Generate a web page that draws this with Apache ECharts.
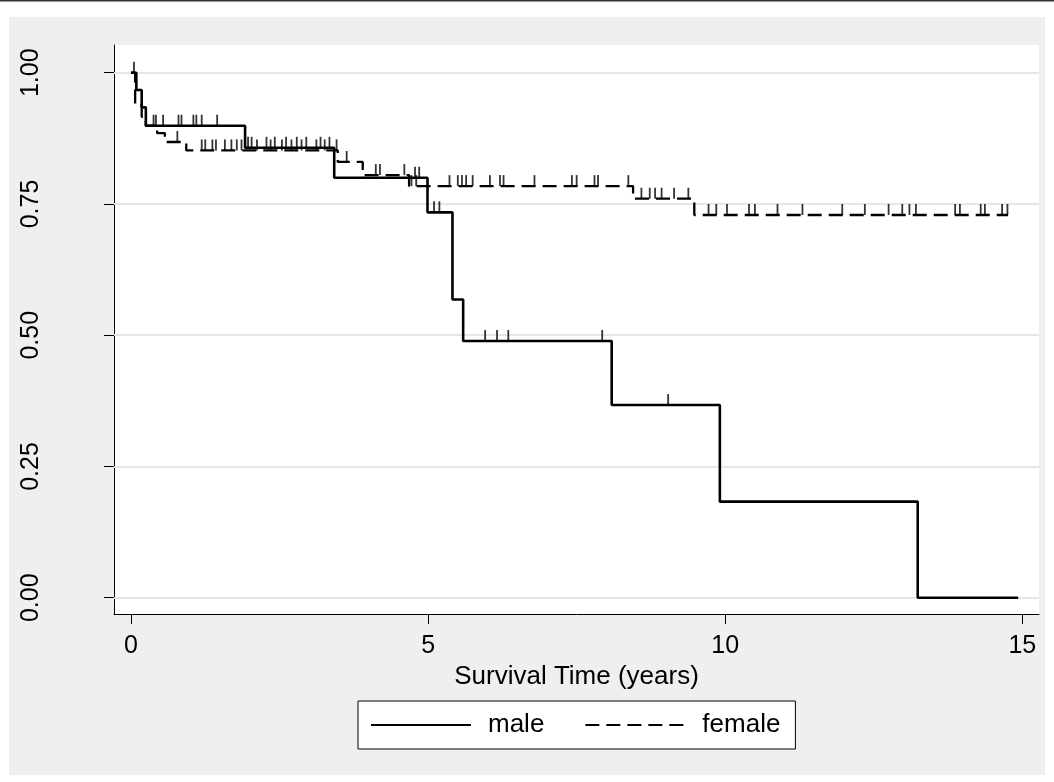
<!DOCTYPE html>
<html>
<head>
<meta charset="utf-8">
<script src="https://cdn.jsdelivr.net/npm/echarts@6/dist/echarts.min.js"></script>
<style>
html,body{margin:0;padding:0;background:#fff;}
#chart{width:1054px;height:782px;}
</style>
</head>
<body>
<div id="chart"></div>
<script>
// Kaplan-Meier step data (time in years, survival)
const maleTimes = [0, 0.09, 0.18, 0.25, 1.92, 3.42, 4.99, 5.41, 5.59, 8.09, 9.91, 13.24, 14.93];
const maleSurv  = [1.0, 0.967, 0.934, 0.899, 0.857, 0.800, 0.734, 0.568, 0.489, 0.367, 0.183, 0.0, 0.0];
const femaleTimes = [0, 0.07, 0.18, 0.25, 0.44, 0.57, 0.93, 3.48, 3.90, 4.68, 8.45, 9.48, 14.76];
const femaleSurv  = [1.0, 0.938, 0.916, 0.899, 0.885, 0.868, 0.852, 0.830, 0.805, 0.784, 0.760, 0.729, 0.729];
// censoring times
const maleCensorTimes = [0.38, 0.42, 0.54, 0.80, 0.85, 1.05, 1.10, 1.19, 1.45, 1.97, 2.03, 2.28, 2.42, 2.61, 2.79, 2.95, 3.19, 3.34, 4.78, 4.85, 5.10, 5.19, 5.96, 6.16, 6.35, 7.93, 9.04];
const femaleCensorTimes = [0.05, 0.78, 1.19, 1.25, 1.37, 1.43, 1.58, 1.69, 1.78, 1.86, 2.12, 2.35, 2.54, 2.70, 2.87, 3.12, 3.26, 3.46, 3.63, 4.12, 4.19, 4.60, 4.72, 4.80, 5.36, 5.50, 5.57, 5.64, 5.75, 6.04, 6.21, 6.27, 6.79, 7.42, 7.50, 7.80, 7.86, 8.37, 8.59, 8.73, 8.82, 8.93, 9.14, 9.38, 9.72, 9.85, 10.03, 10.40, 10.50, 10.88, 11.30, 11.97, 12.35, 12.75, 12.98, 13.10, 13.21, 13.87, 13.95, 14.30, 14.37, 14.66, 14.75];
const xTicks = [0, 5, 10, 15];
const yTicks = [0, 0.25, 0.5, 0.75, 1];
const seriesNames = ['male', 'female'];
const xTitle = 'Survival Time (years)';

function stepAt(times, surv, t) {
  let s = surv[0];
  for (let i = 0; i < times.length; i++) { if (times[i] <= t) s = surv[i]; }
  return s;
}
const zip = (a, b) => a.map((v, i) => [v, b[i]]);
const censorPts = (ct, times, surv) => ct.map(t => [t, stepAt(times, surv, t)]);

const FONT = 'Liberation Sans, Arial, sans-serif';
const chart = echarts.init(document.getElementById('chart'), null, {renderer: 'canvas'});
const tickMark = {symbol: 'rect', symbolSize: [1.8, 11], symbolOffset: [0, -5.5]};

chart.setOption({
  backgroundColor: '#ffffff',
  animation: false,
  graphic: [
    {type: 'rect', z: -100, silent: true, shape: {x: 9, y: 17, width: 1036, height: 758}, style: {fill: '#efefef'}},
    {type: 'rect', z: -100, silent: true, shape: {x: 0, y: 0, width: 1054, height: 1.6}, style: {fill: '#333333'}}
  ],
  grid: {left: 114, right: 15, top: 45, bottom: 168, show: true, backgroundColor: '#ffffff', borderWidth: 0, containLabel: false},
  legend: {
    data: seriesNames,
    left: 358, top: 701,
    padding: [11, 15, 11, 12],
    itemGap: 40,
    itemWidth: 100, itemHeight: 26,
    backgroundColor: '#ffffff',
    borderColor: '#000000', borderWidth: 1, borderRadius: 0,
    itemStyle: {opacity: 0},
    textStyle: {fontFamily: FONT, fontSize: 26, color: '#000', padding: [0, 0, 0, 12]}
  },
  xAxis: {
    type: 'value', min: -0.286, max: 15.281,
    name: xTitle, nameLocation: 'middle', nameGap: 47,
    nameTextStyle: {fontFamily: FONT, fontSize: 26, color: '#000'},
    axisLine: {show: true, onZero: false, lineStyle: {color: '#000', width: 1}},
    axisTick: {show: true, length: 10, inside: false, customValues: xTicks, lineStyle: {color: '#000', width: 1}},
    axisLabel: {show: true, customValues: xTicks, margin: 20, fontFamily: FONT, fontSize: 25, color: '#000'},
    splitLine: {show: false}
  },
  yAxis: {
    type: 'value', min: -0.031, max: 1.0528,
    axisLine: {show: true, onZero: false, lineStyle: {color: '#000', width: 1}},
    axisTick: {show: true, length: 10, inside: false, customValues: yTicks, lineStyle: {color: '#000', width: 1}},
    axisLabel: {show: true, customValues: yTicks, rotate: 90, margin: 70, fontFamily: FONT, fontSize: 25, color: '#000',
      formatter: v => v.toFixed(2)},
    splitLine: {show: false}
  },
  series: [
    {
      name: 'grid', type: 'line', data: [], silent: true, z: 1,
      markLine: {silent: true, z: 1, symbol: 'none', label: {show: false},
        lineStyle: {color: '#e6e6e6', width: 2, type: 'solid'},
        data: yTicks.map(v => ({yAxis: v}))}
    },
    {
      name: 'male', type: 'line', step: 'end', symbol: 'none', showSymbol: false,
      data: zip(maleTimes, maleSurv),
      lineStyle: {color: '#000', width: 2.6, type: 'solid'},
      itemStyle: {color: '#000'}, z: 6
    },
    {
      name: 'female', type: 'line', step: 'end', symbol: 'none', showSymbol: false,
      data: zip(femaleTimes, femaleSurv),
      lineStyle: {color: '#000', width: 2.3, type: [14, 7]},
      itemStyle: {color: '#000'}, z: 6
    },
    Object.assign({
      name: 'male censored', type: 'scatter',
      data: censorPts(maleCensorTimes, maleTimes, maleSurv),
      itemStyle: {color: '#000'}, silent: true, z: 7
    }, tickMark),
    Object.assign({
      name: 'female censored', type: 'scatter',
      data: censorPts(femaleCensorTimes, femaleTimes, femaleSurv),
      itemStyle: {color: '#000'}, silent: true, z: 7
    }, tickMark)
  ]
});
</script>
</body>
</html>
